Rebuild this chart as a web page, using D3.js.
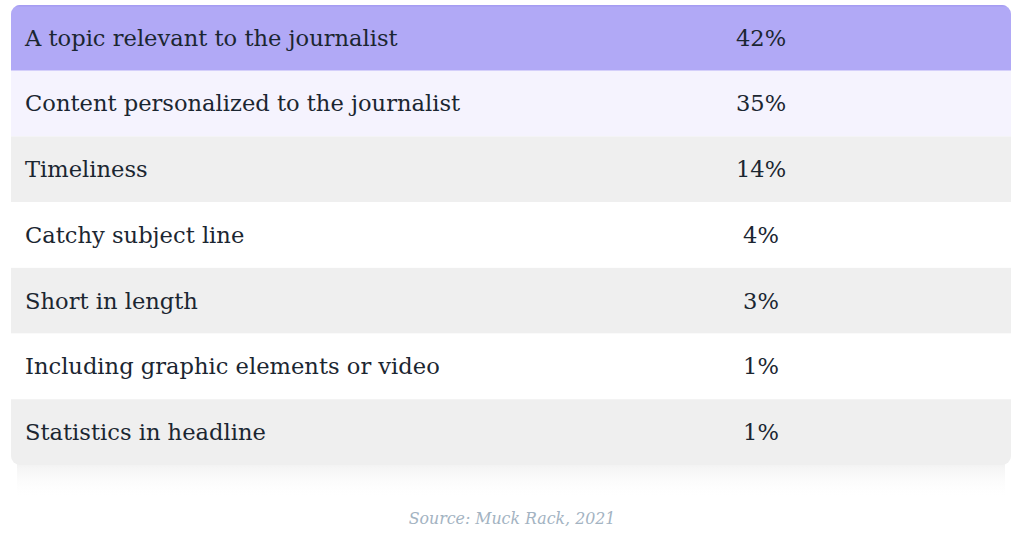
<!DOCTYPE html>
<html>
<head>
<meta charset="utf-8">
<script src="https://cdn.jsdelivr.net/npm/d3@7"></script>
<style>
  body { margin: 0; background: #fff; }
</style>
</head>
<body>
<script>
// table data
const factors = [
    "A topic relevant to the journalist",
    "Content personalized to the journalist",
    "Timeliness",
    "Catchy subject line",
    "Short in length",
    "Including graphic elements or video",
    "Statistics in headline"
];
const shares = [42, 35, 14, 4, 3, 1, 1];
const rowFills = ["#b1a9f6", "#f5f3fe", "#efefef", "#ffffff", "#efefef", "#ffffff", "#efefef"];
const sourceNote = "Source: Muck Rack, 2021";

const W = 1024, H = 543;
const table = { x: 11, y: 5, w: 1000, h: 460, r: 9 };
const valueX = 761;
const fontFamily = "'DejaVu Serif', serif";

const svg = d3.select("body").append("svg")
    .attr("width", W)
    .attr("height", H);

const defs = svg.append("defs");

defs.append("clipPath")
    .attr("id", "tableClip")
    .append("rect")
    .attr("x", table.x)
    .attr("y", table.y)
    .attr("width", table.w)
    .attr("height", table.h)
    .attr("rx", table.r);

// soft shadow under the table
const shadow = defs.append("linearGradient")
    .attr("id", "shadowGrad")
    .attr("x1", "0%").attr("y1", "0%")
    .attr("x2", "0%").attr("y2", "100%");
shadow.append("stop").attr("offset", "0%").attr("stop-color", "#ececec").attr("stop-opacity", 0.8);
shadow.append("stop").attr("offset", "100%").attr("stop-color", "#ffffff").attr("stop-opacity", 0);

svg.append("rect")
    .attr("x", table.x + 6)
    .attr("y", table.y + table.h - 4)
    .attr("width", table.w - 12)
    .attr("height", 38)
    .attr("fill", "url(#shadowGrad)");

const y = d3.scaleBand()
    .domain(factors)
    .range([table.y, table.y + table.h]);

const g = svg.append("g").attr("clip-path", "url(#tableClip)");

const rows = g.selectAll(".row")
    .data(factors)
    .enter().append("g")
    .attr("class", "row")
    .attr("transform", d => `translate(0,${y(d)})`);

rows.append("rect")
    .attr("x", table.x)
    .attr("y", 0)
    .attr("width", table.w)
    .attr("height", y.bandwidth())
    .attr("fill", (d, i) => rowFills[i]);

// thin darker line on top of the header row
g.append("rect")
    .attr("x", table.x)
    .attr("y", table.y)
    .attr("width", table.w)
    .attr("height", 1.5)
    .attr("fill", "#a59cf2");

rows.append("text")
    .attr("x", 25)
    .attr("y", y.bandwidth() / 2)
    .attr("dy", "0.35em")
    .attr("font-family", fontFamily)
    .attr("font-size", "22.6px")
    .attr("fill", "#1b2631")
    .text(d => d);

rows.append("text")
    .attr("x", valueX)
    .attr("y", y.bandwidth() / 2)
    .attr("dy", "0.35em")
    .attr("text-anchor", "middle")
    .attr("font-family", fontFamily)
    .attr("font-size", "22.6px")
    .attr("fill", "#1b2631")
    .text((d, i) => shares[i] + "%");

svg.append("text")
    .attr("x", W / 2)
    .attr("y", 518)
    .attr("dy", "0.35em")
    .attr("text-anchor", "middle")
    .attr("font-family", fontFamily)
    .attr("font-style", "italic")
    .attr("font-size", "15.8px")
    .attr("fill", "#a3b3c2")
    .text(sourceNote);
</script>
</body>
</html>
